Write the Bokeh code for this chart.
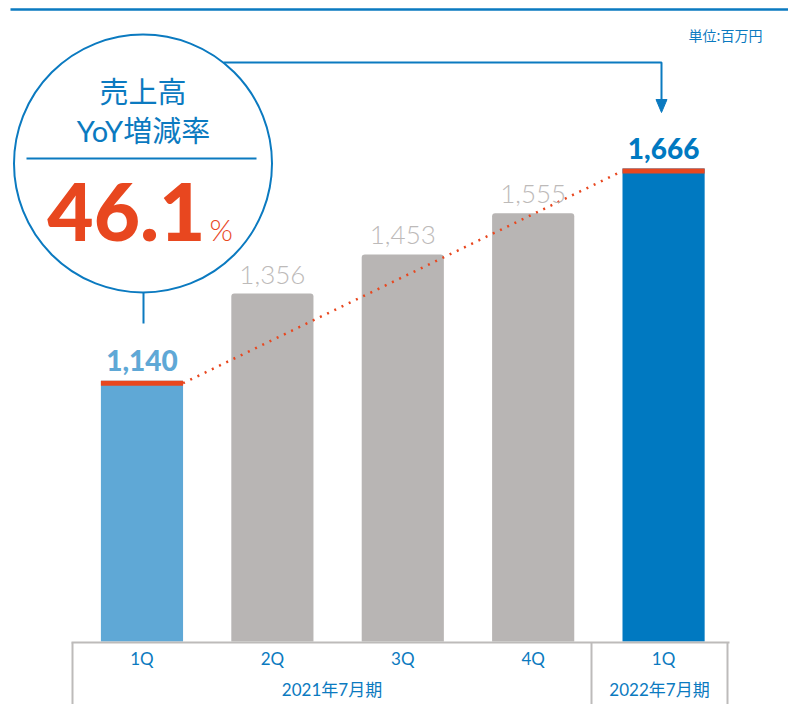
import numpy as np
from bokeh.plotting import figure
from bokeh.models import Range1d
from bokeh.core.properties import value
from bokeh.embed import file_html
from bokeh.resources import INLINE

# ---------------- data ----------------
quarters = ["1Q", "2Q", "3Q", "4Q", "1Q"]
fiscal_years = ["2021年7月期", "2022年7月期"]
sales = [1140, 1356, 1453, 1555, 1666]
yoy_growth = 46.1
unit_label = "単位:百万円"
title_lines = ["売上高", "YoY増減率"]

# ---------------- styling ----------------
BLUE = "#0B7AC0"
LIGHT_BLUE = "#5FA8D6"
DARK_BLUE = "#0079C1"
GRAY_BAR = "#B8B5B4"
GRAY_TXT = "#BDBAB9"
AXIS_GRAY = "#BDBBBA"
RED = "#E8471F"

CJK = "'Noto Sans CJK JP', sans-serif"
NUM = "Lato, 'Noto Sans', sans-serif"
NUM_HEAVY = "'Lato Black', 'Lato Heavy', Lato, sans-serif"
NUM_LIGHT = "'Lato Light', Lato, sans-serif"

W, H = 788, 704
Y0, Y1 = 337.6, 2082.3
BASE = 494
X0, X1 = -1.085, 4.958
k = H / (Y1 - Y0)          # px per value unit
BAR_W = 0.63

p = figure(width=W, height=H, x_range=Range1d(X0, X1), y_range=Range1d(Y0, Y1),
           output_backend="svg", toolbar_location=None, min_border=0,
           x_axis_location=None, y_axis_location=None,
           outline_line_color=None, background_fill_color="white",
           border_fill_color="white")
p.grid.visible = False
p.extra_x_ranges = {"px": Range1d(0, W)}
p.extra_y_ranges = {"px": Range1d(H, 0)}
PX = dict(x_range_name="px", y_range_name="px")

idx = np.arange(len(sales))
sales_arr = np.array(sales, dtype=float)
hl = [0, len(sales) - 1]
gray_idx = [i for i in idx if i not in hl]

# bars
p.vbar(x=gray_idx, top=sales_arr[gray_idx], bottom=BASE, width=BAR_W,
       fill_color=GRAY_BAR, line_color=None, border_radius=(3, 3, 0, 0))
p.vbar(x=[hl[0]], top=[sales_arr[hl[0]]], bottom=BASE, width=BAR_W,
       fill_color=LIGHT_BLUE, line_color=None)
p.vbar(x=[hl[1]], top=[sales_arr[hl[1]]], bottom=BASE, width=BAR_W,
       fill_color=DARK_BLUE, line_color=None)
# red caps
p.vbar(x=hl, top=sales_arr[hl], bottom=sales_arr[hl] - 5 / k, width=BAR_W,
       fill_color=RED, line_color=None)

# dotted trend line between highlighted bars
p.line(x=[hl[0] + BAR_W / 2, hl[1] - BAR_W / 2],
       y=sales_arr[hl] - 2.5 / k, line_color=RED, line_width=2.5,
       line_dash="2 6")

# value labels (vertical centre of digits above bar tops)
labels = [f"{v:,}" for v in sales]
p.text(x=gray_idx, y=sales_arr[gray_idx] + 19 / k, text=[labels[i] for i in gray_idx],
       text_align="center", text_baseline="middle", text_color=GRAY_TXT,
       text_font=value(NUM_LIGHT), text_font_size="26px")
p.text(x=[hl[0]], y=[sales_arr[hl[0]] + 20 / k], text=[labels[hl[0]]],
       text_align="center", text_baseline="middle", text_color=LIGHT_BLUE,
       text_font=value(NUM_HEAVY), text_font_style="bold", text_font_size="28px")
p.text(x=[hl[1]], y=[sales_arr[hl[1]] + 20 / k], text=[labels[hl[1]]],
       text_align="center", text_baseline="middle", text_color=DARK_BLUE,
       text_font=value(NUM_HEAVY), text_font_style="bold", text_font_size="28px")

# category axis box
p.segment(x0=[71], y0=[642], x1=[729], y1=[642], line_color=AXIS_GRAY, line_width=2, **PX)
p.segment(x0=[72, 591, 727], y0=[642] * 3, x1=[72, 591, 727], y1=[710] * 3,
          line_color=AXIS_GRAY, line_width=2, **PX)
p.text(x=idx, y=[658] * len(idx), text=quarters, y_range_name="px",
       text_align="center", text_baseline="middle", text_color=BLUE,
       text_font=value(NUM), text_font_size="17px")
p.text(x=[331.5, 659], y=[689, 689], text=fiscal_years, **PX,
       text_align="center", text_baseline="middle", text_color=BLUE,
       text_font=value(NUM + ", " + CJK), text_font_size="17px")

# top rule and unit
p.segment(x0=[10], y0=[9], x1=[800], y1=[9], line_color=BLUE, line_width=2.5, **PX)
p.text(x=[762], y=[34], text=[unit_label], **PX, text_align="right",
       text_baseline="middle", text_color=BLUE, text_font=value(CJK),
       text_font_size="14px")

# callout circle
p.circle(x=[142.5], y=[163], radius=129, fill_color=None, line_color=BLUE,
         line_width=2, **PX)
p.segment(x0=[26], y0=[158], x1=[256], y1=[158], line_color=BLUE, line_width=2, **PX)
p.segment(x0=[143], y0=[292], x1=[143], y1=[323], line_color=BLUE, line_width=2, **PX)
p.text(x=[142.5, 143], y=[91, 130], text=title_lines, **PX, text_align="center",
       text_baseline="middle", text_color=BLUE, text_font=value(NUM + ", " + CJK),
       text_font_size="29px")
p.text(x=[205], y=[211.5], text=[f"{yoy_growth:.1f}"], **PX, text_align="right",
       text_baseline="middle", text_color=RED, text_font=value(NUM_HEAVY),
       text_font_style="bold", text_font_size="80px")
p.text(x=[209], y=[228.5], text=["%"], **PX, text_align="left",
       text_baseline="middle", text_color=RED, text_font=value(NUM_LIGHT),
       text_font_size="30px")

# connector arrow
p.line(x=[223, 661, 661], y=[62, 62, 101], line_color=BLUE, line_width=2, **PX)
p.patch(x=[655.5, 666.5, 661], y=[99, 99, 112], fill_color=BLUE, line_color=BLUE, **PX)

open("out.html", "w").write(file_html(p, INLINE))
